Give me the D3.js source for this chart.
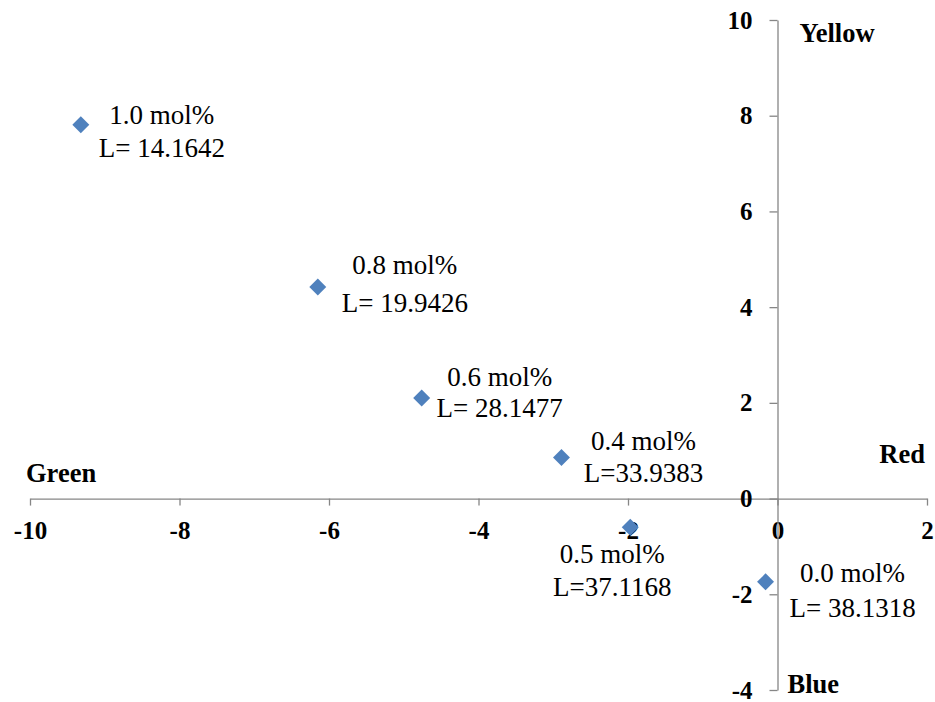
<!DOCTYPE html>
<html>
<head>
<meta charset="utf-8">
<script src="https://cdn.jsdelivr.net/npm/d3@7"></script>
<style>
  body { margin: 0; background: #fff; }
  text { font-family: "Liberation Serif", "Times New Roman", serif; }
</style>
</head>
<body>
<div id="chart"></div>
<script>
// colour coordinates (a*, b*)
const greenRed = [-9.32, -6.15, -4.76, -2.89, -1.97, -0.16];
const blueYellow = [7.81, 4.42, 2.10, 0.86, -0.60, -1.74];
const concentrations = ["1.0 mol%", "0.8 mol%", "0.6 mol%", "0.4 mol%", "0.5 mol%", "0.0 mol%"];
const lightness = ["L= 14.1642", "L= 19.9426", "L= 28.1477", "L=33.9383", "L=37.1168", "L= 38.1318"];
const xTicks = [-10, -8, -6, -4, -2, 0, 2];
const yTicks = [-4, -2, 0, 2, 4, 6, 8, 10];

// label placement relative to each marker (dx, first baseline, second baseline)
const labelOffsets = [
  [81, -1, 32], [87, -13, 25], [78, -12, 19],
  [82, -7, 25], [-18, 36, 69], [87, 0, 35]
];

const width = 935, height = 702;
const axisColor = "#868686";

const svg = d3.select("#chart")
  .append("svg")
  .attr("width", width)
  .attr("height", height);

const x = d3.scaleLinear().domain([-10, 2]).range([30, 927]);
const y = d3.scaleLinear().domain([-4, 10]).range([690, 20]);

// x axis through y = 0
const gx = svg.append("g")
  .attr("transform", `translate(0, ${y(0)})`)
  .call(d3.axisBottom(x).tickValues(xTicks).tickSizeInner(7).tickSizeOuter(0).tickPadding(16)
    .tickFormat(d3.format("d")));

// y axis through x = 0
const gy = svg.append("g")
  .attr("transform", `translate(${x(0)}, 0)`)
  .call(d3.axisLeft(y).tickValues(yTicks).tickSizeInner(8).tickSizeOuter(0).tickPadding(17)
    .tickFormat(d3.format("d")));

[gx, gy].forEach(g => {
  g.select(".domain").attr("stroke", axisColor).attr("stroke-width", 1.3);
  g.selectAll(".tick line").attr("stroke", axisColor).attr("stroke-width", 1.3);
  g.selectAll(".tick text")
    .attr("fill", "#000")
    .style("font-family", '"Liberation Serif", "Times New Roman", serif')
    .style("font-size", "25px")
    .style("font-weight", "bold");
});
// d3 uses a unicode minus, the original shows a hyphen
svg.selectAll(".tick text").text(d => String(d));

// axis end names
const names = [
  { t: "Green", x: x(-10) - 4, y: y(0) - 17, anchor: "start" },
  { t: "Red", x: x(2) - 2, y: y(0) - 36, anchor: "end" },
  { t: "Yellow", x: x(0) + 22, y: y(10) + 22, anchor: "start" },
  { t: "Blue", x: x(0) + 10, y: y(-4) + 3, anchor: "start" }
];
svg.selectAll(".name")
  .data(names)
  .enter().append("text")
  .attr("class", "name")
  .attr("x", d => d.x)
  .attr("y", d => d.y)
  .attr("text-anchor", d => d.anchor)
  .style("font-size", "26.5px")
  .style("font-weight", "bold")
  .text(d => d.t);

// markers
const pts = greenRed.map((v, i) => ({ a: v, b: blueYellow[i], c: concentrations[i], l: lightness[i], o: labelOffsets[i] }));

svg.selectAll(".pt")
  .data(pts)
  .enter().append("path")
  .attr("class", "pt")
  .attr("d", d3.symbol(d3.symbolSquare, 144))
  .attr("transform", d => `translate(${x(d.a)}, ${y(d.b)}) rotate(45)`)
  .attr("fill", "#4F81BD");

// data labels
const lab = svg.selectAll(".lab")
  .data(pts)
  .enter().append("text")
  .attr("class", "lab")
  .attr("text-anchor", "middle")
  .style("font-size", "27px")
  .attr("fill", "#000");

lab.append("tspan")
  .attr("x", d => x(d.a) + d.o[0])
  .attr("y", d => y(d.b) + d.o[1])
  .text(d => d.c);
lab.append("tspan")
  .attr("x", d => x(d.a) + d.o[0])
  .attr("y", d => y(d.b) + d.o[2])
  .text(d => d.l);
</script>
</body>
</html>
